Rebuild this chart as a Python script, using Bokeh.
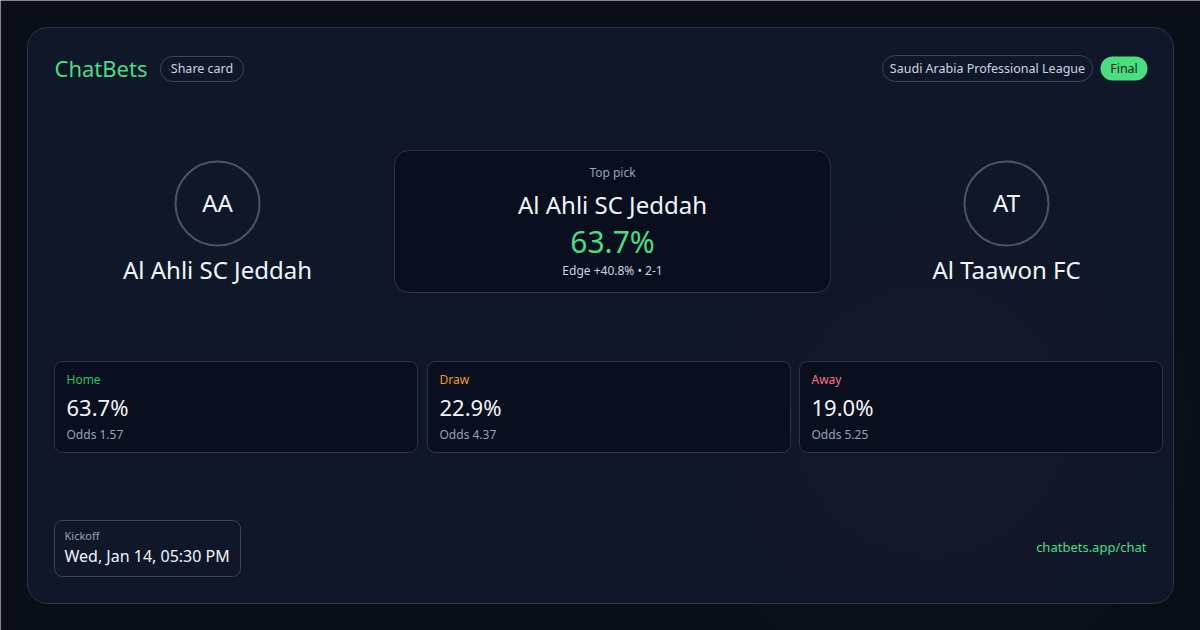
from bokeh.plotting import figure
from bokeh.models import Range1d
from bokeh.core.properties import value
from bokeh.embed import file_html
from bokeh.resources import INLINE

# ---- data ----
brand = "ChatBets"
league = "Saudi Arabia Professional League"
status = "Final"
home_team = "Al Ahli SC Jeddah"
away_team = "Al Taawon FC"
home_abbr = "AA"
away_abbr = "AT"
top_pick = "Al Ahli SC Jeddah"
top_prob = 63.7
edge = 40.8
score = "2-1"
outcomes = ["Home", "Draw", "Away"]
probs = [63.7, 22.9, 19.0]
odds = [1.57, 4.37, 5.25]
kickoff = "Wed, Jan 14, 05:30 PM"
site = "chatbets.app/chat"

# ---- style ----
FONT = value("Noto Sans")
BG = "#0a0e19"
CARD = "#0f1729"
INNER = "#0a0f1f"
BORDER = "#2b3548"
GREEN = "#4ade80"
WHITE = "#f1f5f9"
GREY = "#94a3b8"
outcome_colors = ["#22c55e", "#f59e0b", "#fb7185"]

W, H = 1200, 630
p = figure(width=W, height=H, x_range=Range1d(0, W), y_range=Range1d(H, 0),
           output_backend="svg", toolbar_location=None, min_border=0,
           background_fill_color=BG, border_fill_color=BG)
p.axis.visible = False
p.grid.visible = False
p.outline_line_color = None

def box(x0, y0, x1, y1, fill, line, radius, lw=1):
    p.quad(left=[x0], right=[x1], top=[y0], bottom=[y1], fill_color=fill,
           line_color=line, line_width=lw, border_radius=int(radius))

def txt(x, y, s, size, color, align="left", baseline="middle"):
    p.text(x=[x], y=[y - 1.5], text=[s], text_font=FONT, text_font_size=f"{size}px",
           text_color=color, text_align=align, text_baseline=baseline)

# outer card
box(27, 27, 1173, 603, CARD, BORDER, 20)

# subtle glow
for r in [260, 200, 140]:
    p.circle(x=[930], y=[420], radius=r, fill_color="#1e293b", fill_alpha=0.05, line_color=None)

# header
txt(54, 69, brand, 22, GREEN)
box(160, 56, 243, 81, None, "#3b4658", 12)
txt(201.5, 69, "Share card", 12.5, "#cbd5e1", "center")
box(882, 55, 1092, 81, None, "#3b4658", 13)
txt(987, 69, league, 12.5, "#cbd5e1", "center")
box(1100, 56, 1147, 80, GREEN, None, 12)
txt(1123.5, 69, status, 12.5, "#0f2a1a", "center")

# teams
for cx, abbr, name in [(217, home_abbr, home_team), (1006, away_abbr, away_team)]:
    p.circle(x=[cx], y=[203], radius=42, fill_color=None, line_color="#4b5567", line_width=2)
    txt(cx, 203, abbr, 24, WHITE, "center")
    txt(cx, 270, name, 24, WHITE, "center")

# top pick
box(394, 150, 830, 292, INNER, BORDER, 14)
txt(612, 173, "Top pick", 12, GREY, "center")
txt(612, 205, top_pick, 24, WHITE, "center")
txt(612, 242, f"{top_prob:.1f}%", 30, GREEN, "center")
txt(612, 271, f"Edge +{edge:.1f}% \u2022 {score}", 12, "#cbd5e1", "center")

# outcome boxes
xs = [54, 427, 799]
for i, (lab, pr, od) in enumerate(zip(outcomes, probs, odds)):
    x0 = xs[i]
    box(x0, 361, x0 + 363, 452, INNER, BORDER, 8)
    txt(x0 + 12, 380, lab, 12, outcome_colors[i])
    txt(x0 + 12, 408, f"{pr:.1f}%", 22, WHITE)
    txt(x0 + 12, 435, f"Odds {od:.2f}", 12, GREY)

# kickoff
box(54, 520, 240, 576, None, "#3b4658", 8)
txt(64, 536, "Kickoff", 11, GREY)
txt(64, 557, kickoff, 16, WHITE)

txt(1146, 548, site, 13, GREEN, "right")

open("out.html", "w").write(file_html(p, INLINE))
